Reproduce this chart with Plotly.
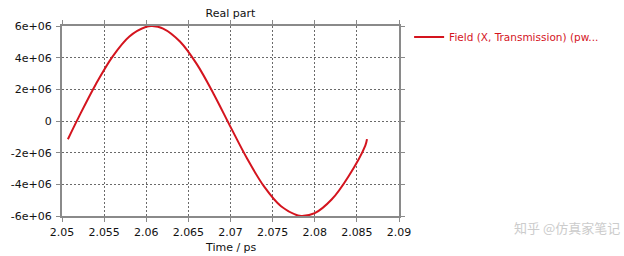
import plotly.graph_objects as go

# Values
time_ps = [2.0507, 2.052, 2.054, 2.056, 2.058, 2.060, 2.0607, 2.062, 2.064, 2.066,
           2.068, 2.070, 2.072, 2.074, 2.076, 2.078, 2.0785, 2.080, 2.082, 2.084,
           2.086, 2.0862]
field_real = [-1.15e6, 0.26e6, 2.31e6, 4.07e6, 5.34e6, 5.95e6, 6.0e6, 5.84e6, 5.02e6, 3.59e6,
              1.71e6, -0.37e6, -2.40e6, -4.15e6, -5.39e6, -5.97e6, -6.0e6, -5.82e6, -4.96e6, -3.50e6,
              -1.55e6, -1.15e6]

x_ticks = [2.05, 2.055, 2.06, 2.065, 2.07, 2.075, 2.08, 2.085, 2.09]
x_labels = ["2.05", "2.055", "2.06", "2.065", "2.07", "2.075", "2.08", "2.085", "2.09"]
y_ticks = [-6e6, -4e6, -2e6, 0, 2e6, 4e6, 6e6]
y_labels = ["-6e+06", "-4e+06", "-2e+06", "0", "2e+06", "4e+06", "6e+06"]

FONT = "DejaVu Sans"

fig = go.Figure()
fig.add_trace(go.Scatter(
    x=time_ps, y=field_real, mode="lines",
    line=dict(color="#d4141e", width=2, shape="spline", smoothing=1.0),
    name="Field (X, Transmission) (pw...",
))

axis_common = dict(
    showline=True, linecolor="#8a8a8a", linewidth=2, mirror="allticks",
    ticks="outside", ticklen=4, tickcolor="#8a8a8a", tickwidth=1,
    showgrid=True, gridcolor="#6a6a6a", griddash="2px,2px", gridwidth=1,
    zeroline=False, automargin=False,
    tickfont=dict(family=FONT, size=11, color="#111111"),
)

fig.update_layout(
    width=624, height=256,
    margin=dict(l=62, r=225, t=26, b=40),
    paper_bgcolor="white", plot_bgcolor="white",
    title=dict(text="Real part", x=(62 + 399) / 2 / 624, xanchor="center",
               y=1 - 13 / 256, yanchor="middle",
               font=dict(family=FONT, size=11, color="#111111")),
    showlegend=True,
    legend=dict(x=1.03, y=0.942, xanchor="left", yanchor="middle",
                font=dict(family=FONT, size=10.5, color="#d4141e"),
                bgcolor="rgba(0,0,0,0)", itemwidth=30),
    xaxis=dict(range=[2.05, 2.09], tickvals=x_ticks, ticktext=x_labels,
               ticklabelstandoff=1, **axis_common),
    yaxis=dict(range=[-6e6, 6e6], tickvals=y_ticks, ticktext=y_labels,
               ticklabelstandoff=2, **axis_common),
)

# x-axis title, placed just below the tick labels
fig.add_annotation(
    text="Time / ps", xref="paper", yref="paper",
    x=0.5, y=(216 - 247) / 190, xanchor="center", yanchor="middle",
    showarrow=False, font=dict(family=FONT, size=11, color="#111111"),
)

fig.add_annotation(
    text="知乎 @仿真家笔记", xref="paper", yref="paper",
    x=(512 - 62) / 337, y=(216 - 227) / 190, xanchor="left", yanchor="middle",
    showarrow=False,
    font=dict(family="Noto Sans CJK SC", size=13, color="#cccccc"),
)

fig.write_html("out.html")
